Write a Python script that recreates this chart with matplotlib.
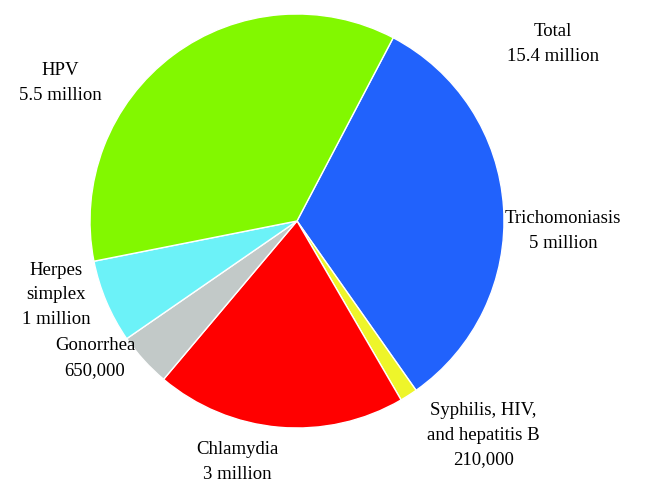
import matplotlib
matplotlib.use('Agg')
import matplotlib.pyplot as plt

# 数据（百万）
names = ['Trichomoniasis', 'Syphilis, HIV, and hepatitis B', 'Chlamydia',
         'Gonorrhea', 'Herpes simplex', 'HPV']
values = [5.0, 0.21, 3.0, 0.65, 1.0, 5.5]
colors = ['#2162fc', '#eef52a', '#ff0000', '#c2c9c8', '#6cf2f8', '#82f800']
labels = ['Trichomoniasis\n5 million', 'Syphilis, HIV,\nand hepatitis B\n210,000',
          'Chlamydia\n3 million', 'Gonorrhea\n650,000', 'Herpes\nsimplex\n1 million',
          'HPV\n5.5 million']
label_xy = [(1.285, -0.048), (0.899, -1.034), (-0.29, -1.164),
            (-0.976, -0.662), (-1.164, -0.357), (-1.145, 0.667)]

plt.rcParams['font.family'] = ['Liberation Serif', 'DejaVu Serif']

fig = plt.figure(figsize=(6.53, 5.03), dpi=100)
ax = fig.add_axes([0, 0, 1, 1])
ax.pie(values, colors=colors, startangle=62.3, counterclock=False, radius=1,
       wedgeprops=dict(edgecolor='white', linewidth=1.0))
ax.set_xlim(-297 / 207, (653 - 297) / 207)
ax.set_ylim(-(503 - 221) / 207, 221 / 207)
ax.set_aspect('equal')
ax.axis('off')

for lab, (x, y) in zip(labels, label_xy):
    ax.text(x, y, lab, ha='center', va='center', fontsize=13.5, linespacing=1.55)

ax.text(1.237, 0.855, 'Total\n15.4 million', ha='center', va='center',
        fontsize=13.5, linespacing=1.55)

fig.savefig('out.png', dpi=100)
